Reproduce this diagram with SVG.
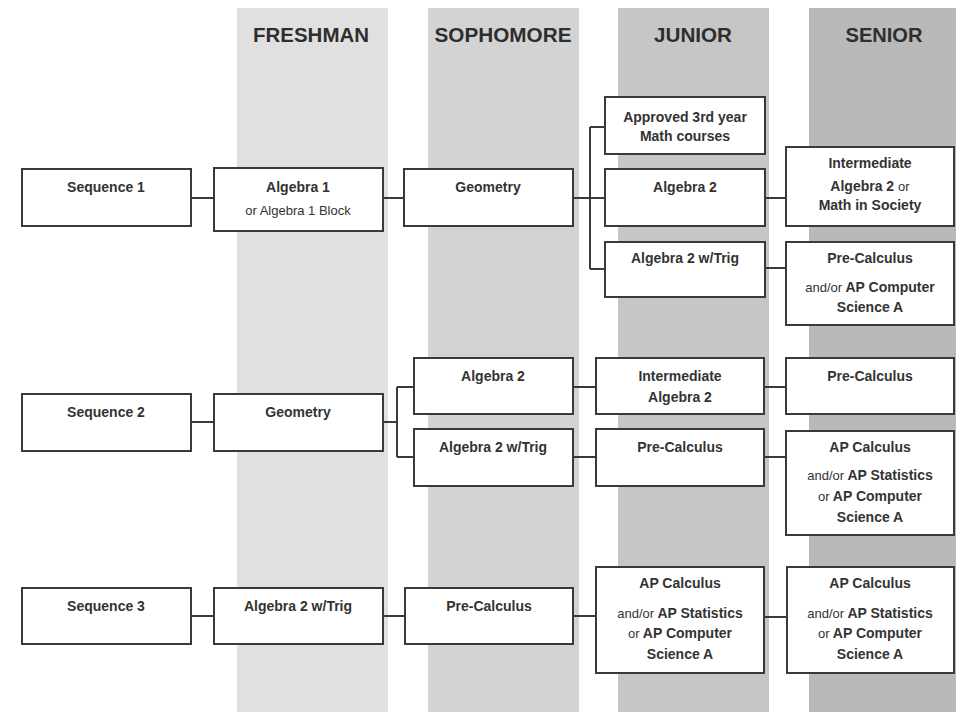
<svg xmlns="http://www.w3.org/2000/svg" width="956" height="712" viewBox="0 0 956 712">
<style>
.box{fill:#fff;stroke:#3a3a3a;stroke-width:2}
.hd{font-family:"Liberation Sans",Arial,sans-serif;font-weight:bold;font-size:21px;fill:#2e2e2e;text-anchor:middle}
.t{font-family:"Liberation Sans",Arial,sans-serif;font-weight:bold;font-size:14px;fill:#333;text-anchor:middle}
.n{font-weight:normal;font-size:13px}
.c{fill:none;stroke:#3a3a3a;stroke-width:2}
</style>
<rect width="956" height="712" fill="#fff"/>
<g id="bands">
<rect x="237" y="8" width="151" height="704" fill="#e0e0e0"/>
<rect x="428" y="8" width="151" height="704" fill="#d3d3d3"/>
<rect x="618" y="8" width="151" height="704" fill="#c6c6c6"/>
<rect x="809" y="8" width="147" height="704" fill="#b9b9b9"/>
<text class="hd" x="311" y="42" textLength="116" lengthAdjust="spacingAndGlyphs">FRESHMAN</text>
<text class="hd" x="503" y="42" textLength="137" lengthAdjust="spacingAndGlyphs">SOPHOMORE</text>
<text class="hd" x="693" y="42" textLength="78" lengthAdjust="spacingAndGlyphs">JUNIOR</text>
<text class="hd" x="884" y="42" textLength="77" lengthAdjust="spacingAndGlyphs">SENIOR</text>
</g>
<g id="connectors">
<path class="c" d="M191 198H214M383 198H404M573 198H590M590 127V269M590 127H605M590 198H605M590 269H605M765 198H786M765 268H786"/>
<path class="c" d="M191 422H214M383 422H397M397 387V457M397 387H414M397 457H414M573 387H596M573 457H596M764 387H786M764 457H786"/>
<path class="c" d="M191 616H214M383 616H405M573 616H596M764 617H787"/>
</g>
<g id="s1"><rect class="box" x="22" y="169" width="169" height="57"/><text class="t" x="106" y="192">Sequence 1</text></g>
<g id="s1-alg1"><rect class="box" x="214" y="168" width="169" height="63"/><text class="t" x="298" y="192">Algebra 1</text><text class="t n" x="298" y="215">or Algebra 1 Block</text></g>
<g id="s1-geo"><rect class="box" x="404" y="169" width="169" height="57"/><text class="t" x="488" y="192">Geometry</text></g>
<g id="s1-approved"><rect class="box" x="605" y="97" width="160" height="57"/><text class="t" x="685" y="122">Approved 3rd year</text><text class="t" x="685" y="141">Math courses</text></g>
<g id="s1-alg2"><rect class="box" x="605" y="169" width="160" height="57"/><text class="t" x="685" y="192">Algebra 2</text></g>
<g id="s1-alg2trig"><rect class="box" x="605" y="242" width="160" height="55"/><text class="t" x="685" y="263">Algebra 2 w/Trig</text></g>
<g id="s1-inter"><rect class="box" x="786" y="147" width="168" height="79"/><text class="t" x="870" y="168">Intermediate</text><text class="t" x="870" y="191">Algebra 2 <tspan class="n">or</tspan></text><text class="t" x="870" y="210">Math in Society</text></g>
<g id="s1-precalc"><rect class="box" x="786" y="242" width="168" height="83"/><text class="t" x="870" y="263">Pre-Calculus</text><text class="t" x="870" y="292"><tspan class="n">and/or</tspan> AP Computer</text><text class="t" x="870" y="312">Science A</text></g>

<g id="s2"><rect class="box" x="22" y="394" width="169" height="57"/><text class="t" x="106" y="417">Sequence 2</text></g>
<g id="s2-geo"><rect class="box" x="214" y="394" width="169" height="57"/><text class="t" x="298" y="417">Geometry</text></g>
<g id="s2-alg2"><rect class="box" x="414" y="358" width="159" height="56"/><text class="t" x="493" y="381">Algebra 2</text></g>
<g id="s2-alg2trig"><rect class="box" x="414" y="429" width="159" height="57"/><text class="t" x="493" y="452">Algebra 2 w/Trig</text></g>
<g id="s2-inter"><rect class="box" x="596" y="358" width="168" height="56"/><text class="t" x="680" y="381">Intermediate</text><text class="t" x="680" y="402">Algebra 2</text></g>
<g id="s2-precalc-j"><rect class="box" x="596" y="429" width="168" height="57"/><text class="t" x="680" y="452">Pre-Calculus</text></g>
<g id="s2-precalc-s"><rect class="box" x="786" y="358" width="168" height="56"/><text class="t" x="870" y="381">Pre-Calculus</text></g>
<g id="s2-ap"><rect class="box" x="786" y="431" width="168" height="104"/><text class="t" x="870" y="452">AP Calculus</text><text class="t" x="870" y="480"><tspan class="n">and/or</tspan> AP Statistics</text><text class="t" x="870" y="501"><tspan class="n">or</tspan> AP Computer</text><text class="t" x="870" y="522">Science A</text></g>

<g id="s3"><rect class="box" x="22" y="588" width="169" height="56"/><text class="t" x="106" y="611">Sequence 3</text></g>
<g id="s3-alg2trig"><rect class="box" x="214" y="588" width="169" height="56"/><text class="t" x="298" y="611">Algebra 2 w/Trig</text></g>
<g id="s3-precalc"><rect class="box" x="405" y="588" width="168" height="56"/><text class="t" x="489" y="611">Pre-Calculus</text></g>
<g id="s3-ap-j"><rect class="box" x="596" y="567" width="168" height="106"/><text class="t" x="680" y="588">AP Calculus</text><text class="t" x="680" y="618"><tspan class="n">and/or</tspan> AP Statistics</text><text class="t" x="680" y="638"><tspan class="n">or</tspan> AP Computer</text><text class="t" x="680" y="659">Science A</text></g>
<g id="s3-ap-s"><rect class="box" x="787" y="567" width="167" height="106"/><text class="t" x="870" y="588">AP Calculus</text><text class="t" x="870" y="618"><tspan class="n">and/or</tspan> AP Statistics</text><text class="t" x="870" y="638"><tspan class="n">or</tspan> AP Computer</text><text class="t" x="870" y="659">Science A</text></g>
</svg>
